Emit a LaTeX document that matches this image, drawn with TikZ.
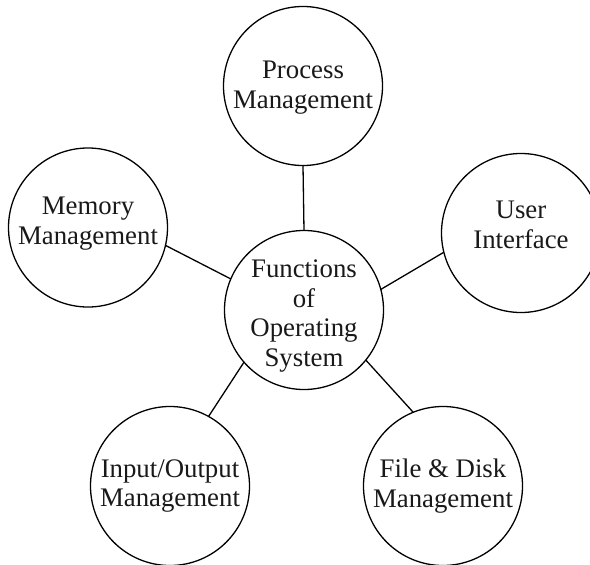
\documentclass[tikz,border=0pt]{standalone}
\usepackage{fontspec}
\setmainfont{Liberation Serif}
\begin{document}
\begin{tikzpicture}[x=1pt,y=-1pt,
  bubble/.style={draw=black,circle,line width=1.3pt,minimum size=159pt,inner sep=0pt,outer sep=0pt},
  lbl/.style={align=center,inner sep=0pt,text=black!90,font=\fontsize{26.8}{29.5}\selectfont},
  link/.style={draw=black,line width=1.3pt}]
\useasboundingbox (0,0) rectangle (590,565);
\clip (0,0) rectangle (590,565);
\node[bubble,label={[lbl,name=pt,yshift=-1.5pt]center:Process\\Management}] (p) at (303,86) {};
\node[bubble,label={[lbl,name=ct,yshift=-6pt]center:Functions\\of\\Operating\\System}] (c) at (304,310) {};
\node[bubble,label={[lbl,name=mt,yshift=4pt]center:Memory\\Management}] (m) at (88,227.5) {};
\node[bubble,label={[lbl,name=ut,yshift=8pt]center:User\\Interface}] (u) at (521,233) {};
\node[bubble,label={[lbl,name=it]center:Input/Output\\Management}] (i) at (170,486) {};
\node[bubble,label={[lbl,name=ft]center:File \& Disk\\Management}] (f) at (443,486) {};
\draw[link] (p.south) -- (c.north);
\draw[link] (m.-13.5) -- (c.157);
\draw[link] (u.-166) -- (c.15);
\draw[link] (i.61.5) -- (c.221.5);
\draw[link] (f.112.8) -- (c.-39.4);
\end{tikzpicture}
\end{document}
